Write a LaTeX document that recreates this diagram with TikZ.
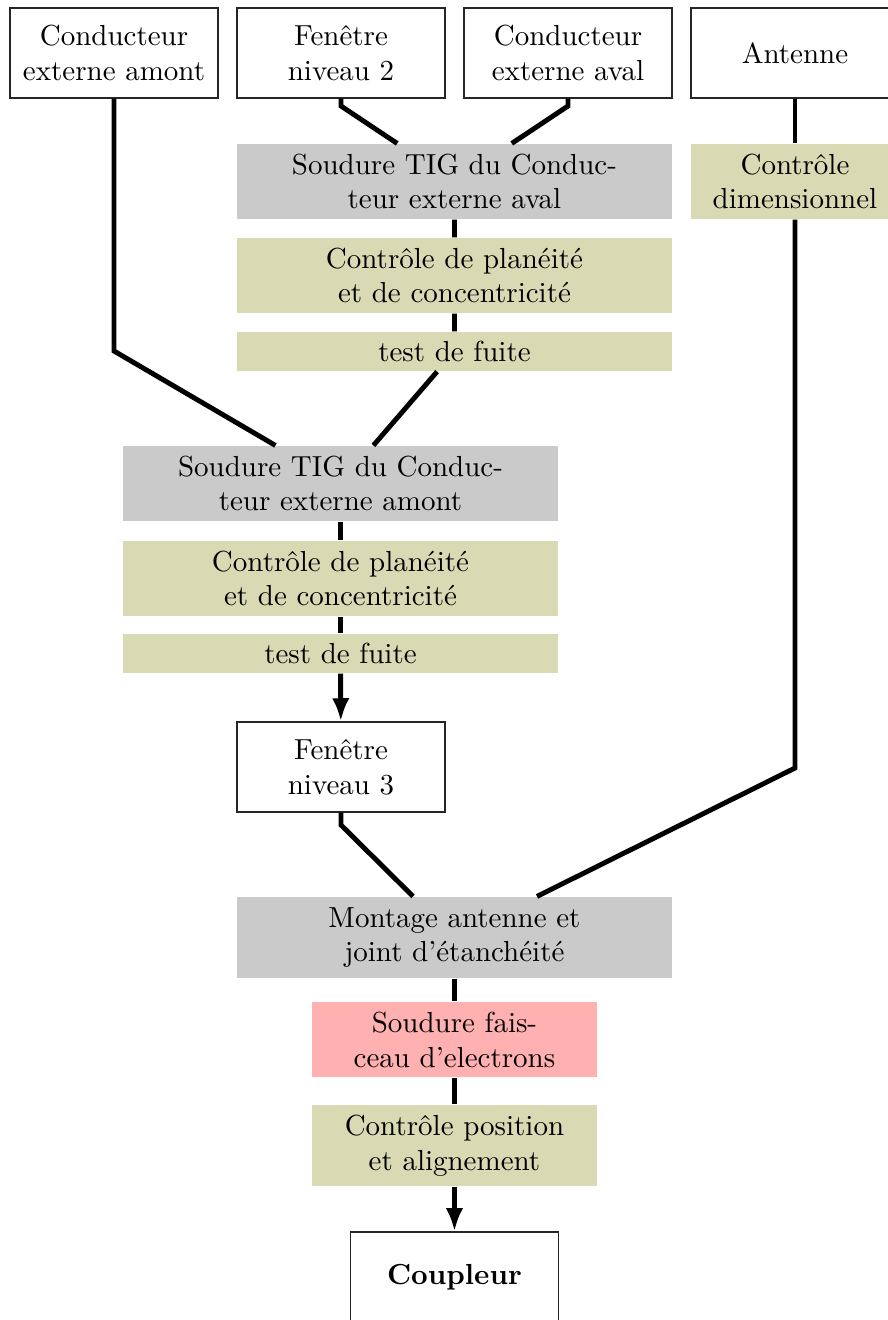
\documentclass[tikz,border=0pt]{standalone}
\usepackage{fontspec}
\usetikzlibrary{calc, arrows.meta}

\definecolor{vertolive}{RGB}{217,217,180}
\definecolor{grisclair}{RGB}{202,202,202}
\definecolor{rose}{RGB}{255,176,176}

\begin{document}
\begin{tikzpicture}[
    piece/.style={draw=black!85, thin, align=center, minimum width=2.521cm, minimum height=1.091cm, inner sep=0pt},
    soudure/.style={fill=grisclair, align=center, minimum width=5.272cm, minimum height=0.909cm, inner sep=0pt},
    controle/.style={fill=vertolive, align=center, minimum width=5.272cm, minimum height=0.909cm, inner sep=0pt},
    lien/.style={line width=1.7pt},
    fleche/.style={line width=1.7pt, -{Latex[length=8pt, width=6pt]}}
  ]
  \useasboundingbox (0,0) rectangle (10.762,-15.998);

  % pieces de depart
  \node[piece] (ceamont) at (1.382,-0.642) {Conducteur\\externe amont};
  \node[piece] (fen2) at (4.133,-0.642) {Fenêtre\\niveau 2};
  \node[piece] (ceaval) at (6.884,-0.642) {Conducteur\\externe aval};
  \node[piece] (antenne) at (9.635,-0.642) {Antenne};

  % branche aval
  \node[soudure] (tigaval) at (5.508,-2.200) {Soudure TIG du Conduc-\\teur externe aval};
  \node[controle] (plan1) at (5.508,-3.339) {Contrôle de planéité\\et de concentricité};
  \node[controle, minimum height=0.473cm] (fuite1) at (5.508,-4.260) {test de fuite};
  \node[controle, minimum width=2.521cm] (dimension) at (9.635,-2.200) {Contrôle\\dimensionnel};

  % branche amont
  \node[soudure] (tigamont) at (4.127,-5.860) {Soudure TIG du Conduc-\\teur externe amont};
  \node[controle] (plan2) at (4.127,-7.011) {Contrôle de planéité\\et de concentricité};
  \node[controle, minimum height=0.473cm] (fuite2) at (4.127,-7.920) {test de fuite};
  \node[piece] (fen3) at (4.133,-9.296) {Fenêtre\\niveau 3};

  % assemblage final
  \node[soudure, minimum height=0.982cm] (montage) at (5.508,-11.362) {Montage antenne et\\joint d'étanchéité};
  \node[soudure, fill=rose, minimum width=3.454cm] (faisceau) at (5.508,-12.599) {Soudure fais-\\ceau d'electrons};
  \node[controle, minimum width=3.454cm, minimum height=0.982cm] (position) at (5.508,-13.883) {Contrôle position\\et alignement};
  \node[piece] (coupleur) at (5.508,-15.477) {\textbf{Coupleur}};

  % coudes
  \coordinate (k1) at (1.382,-4.254);
  \coordinate (k2) at (4.133,-1.285);
  \coordinate (k3) at (6.884,-1.285);
  \coordinate (k4) at (9.635,-9.308);
  \coordinate (k5) at (4.133,-9.999);

  \draw[lien] (ceamont) -- (k1) -- (tigamont);
  \draw[lien] (fen2) -- (k2) -- (tigaval);
  \draw[lien] (ceaval) -- (k3) -- (tigaval);
  \draw[lien] (antenne) -- (dimension);
  \draw[lien] (dimension) -- (k4) -- (montage);
  \draw[lien] (tigaval) -- (plan1) -- (fuite1) -- (tigamont);
  \draw[lien] (tigamont) -- (plan2) -- (fuite2);
  \draw[fleche] (fuite2) -- (fen3);
  \draw[lien] (fen3) -- (k5) -- (montage);
  \draw[lien] (montage) -- (faisceau) -- (position);
  \draw[fleche] (position) -- (coupleur);
\end{tikzpicture}
\end{document}
